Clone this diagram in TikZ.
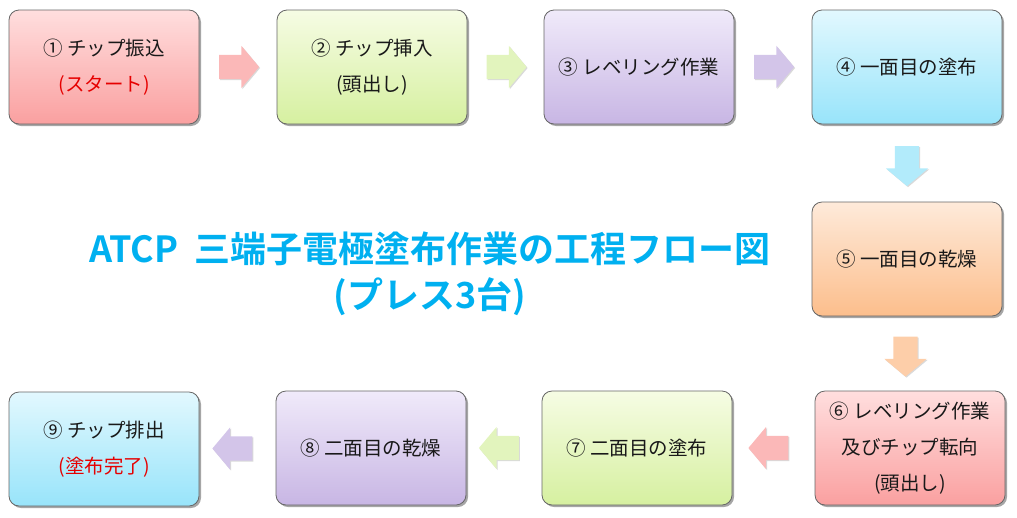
\documentclass[tikz,border=0pt]{standalone}
\usepackage{fontspec}
\setmainfont{Noto Sans CJK JP}
\newfontfamily\jpbold{Noto Sans CJK JP Bold}
\usetikzlibrary{shapes.arrows,shadows,calc}
\definecolor{titlecol}{RGB}{0,176,240}
\definecolor{redtxt}{RGB}{230,0,0}
\definecolor{pinkT}{RGB}{255,222,222}\definecolor{pinkB}{RGB}{250,160,160}
\definecolor{greenT}{RGB}{246,252,228}\definecolor{greenB}{RGB}{214,240,160}
\definecolor{purpT}{RGB}{240,234,250}\definecolor{purpB}{RGB}{200,182,228}
\definecolor{blueT}{RGB}{226,248,254}\definecolor{blueB}{RGB}{152,228,250}
\definecolor{orT}{RGB}{254,234,218}\definecolor{orB}{RGB}{252,190,140}
\tikzset{
  box/.style={draw=black!60, line width=0.8pt, rounded corners=10pt,
    minimum width=190pt, minimum height=114pt, inner sep=2pt, align=center,
    font=\fontsize{19.5}{36}\selectfont, text=black!90,
    drop shadow={shadow xshift=2pt, shadow yshift=-2pt, opacity=0.35, fill=black}},
  pinkbox/.style={box, top color=pinkT, bottom color=pinkB},
  greenbox/.style={box, top color=greenT, bottom color=greenB},
  purpbox/.style={box, top color=purpT, bottom color=purpB},
  bluebox/.style={box, top color=blueT, bottom color=blueB},
  orbox/.style={box, top color=orT, bottom color=orB},
  blockarrow/.style={single arrow, minimum height=40pt, minimum width=0pt,
    inner xsep=0pt, inner ysep=12pt, text height=0pt, text depth=0pt, text width=0pt,
    single arrow head extend=9pt, single arrow tip angle=100, draw=none,
    drop shadow={shadow xshift=1pt, shadow yshift=-1pt, opacity=0.15, fill=black}},
  vert/.style={shape border rotate=270, inner xsep=12pt, inner ysep=0pt},
  apink/.style={blockarrow, fill=pinkB!75!white},
  agreen/.style={blockarrow, fill=greenB!70!white},
  apurp/.style={blockarrow, fill=purpB!80!white},
  ablue/.style={blockarrow, fill=blueB!75!white},
  aor/.style={blockarrow, fill=orB!75!white},
}
\begin{document}
\begin{tikzpicture}[x=1pt,y=-1pt]
\useasboundingbox (0,0) rectangle (1017,517);
\node[pinkbox]  (b1) at (104,67)  {① チップ振込\\\textcolor{redtxt}{(スタート)}};
\node[greenbox] (b2) at (372,67)  {② チップ挿入\\(頭出し)};
\node[purpbox]  (b3) at (639,67)  {③ レベリング作業};
\node[bluebox]  (b4) at (907,67)  {④ 一面目の塗布};
\node[orbox]    (b5) at (907,259) {⑤ 一面目の乾燥};
\node[pinkbox]  (b6) at (910,448) {⑥ レベリング作業\\及びチップ転向\\(頭出し)};
\node[greenbox] (b7) at (637,448) {⑦ 二面目の塗布};
\node[purpbox]  (b8) at (371,448) {⑧ 二面目の乾燥};
\node[bluebox]  (b9) at (104,449) {⑨ チップ排出\\\textcolor{redtxt}{(塗布完了)}};

\node[apink]  (a12) at ($(b1.east)!0.5!(b2.west)+(-4,0)$) {};
\node[agreen] (a23) at ($(b2.east)!0.5!(b3.west)+(-4,0)$) {};
\node[apurp]  (a34) at ($(b3.east)!0.5!(b4.west)+(-4,0)$) {};
\node[ablue, vert] (a45) at ($(b4.south)!0.5!(b5.north)+(0,-2)$) {};
\node[aor, vert]   (a56) at ($(b5.south)!0.5!(b6.north)+(-3,-2)$) {};
\node[apink, shape border rotate=180]  (a67) at ($(b6.west)!0.5!(b7.east)$) {};
\node[agreen, shape border rotate=180] (a78) at ($(b7.west)!0.5!(b8.east)$) {};
\node[apurp, shape border rotate=180]  (a89) at ($(b8.west)!0.5!(b9.east)$) {};

\node[text=titlecol, align=center, font=\jpbold\fontsize{36}{46}\selectfont] (title) at (430,274)
  {ATCP\ \ 三端子電極塗布作業の工程フロー図\\(プレス3台)};
\end{tikzpicture}
\end{document}
